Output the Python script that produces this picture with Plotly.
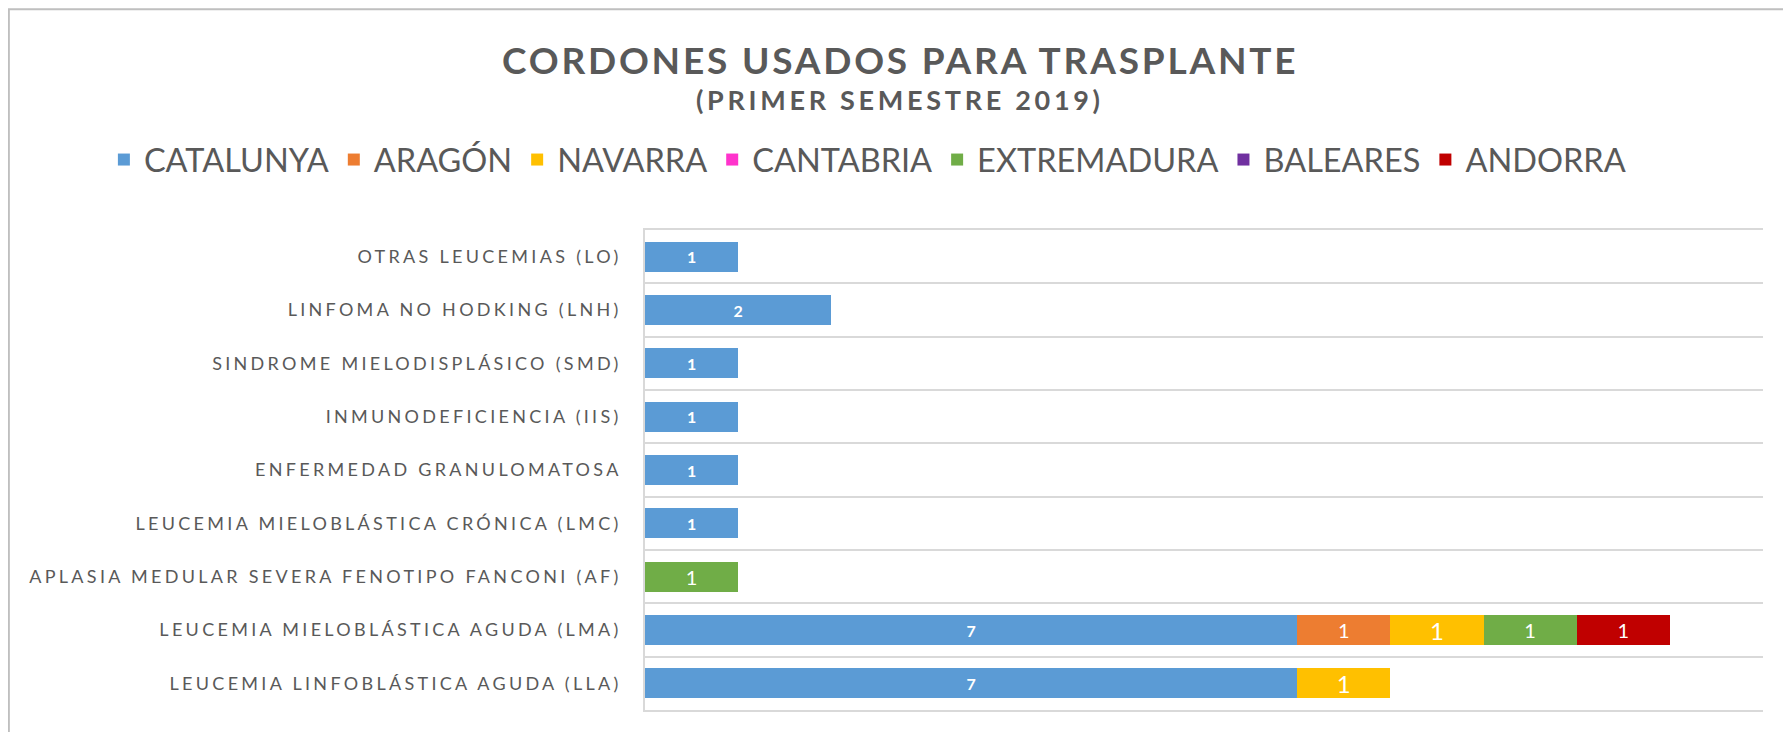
import plotly.graph_objects as go

categories = [
    "OTRAS LEUCEMIAS (LO)",
    "LINFOMA NO HODKING (LNH)",
    "SINDROME MIELODISPLÁSICO (SMD)",
    "INMUNODEFICIENCIA (IIS)",
    "ENFERMEDAD GRANULOMATOSA",
    "LEUCEMIA MIELOBLÁSTICA CRÓNICA (LMC)",
    "APLASIA MEDULAR SEVERA FENOTIPO FANCONI (AF)",
    "LEUCEMIA MIELOBLÁSTICA AGUDA (LMA)",
    "LEUCEMIA LINFOBLÁSTICA AGUDA (LLA)",
]

catalunya   = [1, 2, 1, 1, 1, 1, None, 7, 7]
aragon      = [None, None, None, None, None, None, None, 1, None]
navarra     = [None, None, None, None, None, None, None, 1, 1]
cantabria   = [None, None, None, None, None, None, None, None, None]
extremadura = [None, None, None, None, None, None, 1, 1, None]
baleares    = [None, None, None, None, None, None, None, None, None]
andorra     = [None, None, None, None, None, None, None, 1, None]

series_names = ["CATALUNYA", "ARAGÓN", "NAVARRA", "CANTABRIA", "EXTREMADURA", "BALEARES", "ANDORRA"]
series_values = [catalunya, aragon, navarra, cantabria, extremadura, baleares, andorra]
colors = ["#5B9BD5", "#ED7D31", "#FFC000", "#FF33CC", "#70AD47", "#7030A0", "#C00000"]
label_sizes = [16, 20, 24, 20, 20, 20, 20]
label_bold = [True, False, False, False, False, False, False]

FONT = "Lato"
GRAY = "#595959"

fig = go.Figure()
for name, vals, col, ls, bold in zip(series_names, series_values, colors, label_sizes, label_bold):
    txt = [("" if v is None else (f"<b>{v}</b>" if bold else f"{v}")) for v in vals]
    fig.add_trace(go.Bar(
        y=categories, x=vals, name=name, orientation="h",
        marker=dict(color=col, line=dict(width=0)),
        text=txt, textposition="inside", insidetextanchor="middle",
        textangle=0, constraintext="none",
        textfont=dict(color="white", size=ls, family=FONT),
        hoverinfo="x+y+name",
    ))

def spaced(s, px):
    return f'<span style="letter-spacing:{px}px">{s}</span>'

fig.update_layout(
    barmode="stack",
    bargap=0.437,
    width=1791, height=732,
    margin=dict(l=637, r=36, t=222, b=30, autoexpand=False),
    paper_bgcolor="white", plot_bgcolor="white",
    font=dict(family=FONT, color=GRAY),
    showlegend=True,
    legend=dict(
        orientation="h", x=-0.484, xanchor="left", y=1.146, yanchor="middle",
        font=dict(size=32.5, color=GRAY, family=FONT),
        traceorder="normal", itemclick=False,
    ),
    xaxis=dict(
        range=[0, 12], fixedrange=True,
        showticklabels=False, ticks="", showgrid=False, zeroline=False,
        showline=True, linecolor="#D9D9D9", linewidth=1.5, mirror=True,
    ),
    yaxis=dict(
        type="category", autorange="reversed",
        tickson="boundaries", ticks="",
        tickvals=categories,
        ticktext=[spaced(c, 3.3) for c in categories],
        tickfont=dict(size=18, color=GRAY, family=FONT),
        ticklabelstandoff=18,
        showgrid=True, gridcolor="#D9D9D9", gridwidth=1.5,
        showline=True, linecolor="#D9D9D9", linewidth=1.5, mirror=False,
        zeroline=False,
    ),
    annotations=[
        dict(text="<b>" + spaced("CORDONES USADOS PARA TRASPLANTE", 2.8) + "</b>",
             xref="paper", yref="paper", x=0.228, y=1.356,
             xanchor="center", yanchor="middle", showarrow=False,
             font=dict(size=37, color=GRAY, family=FONT)),
        dict(text="<b>" + spaced("(PRIMER SEMESTRE 2019)", 3.7) + "</b>",
             xref="paper", yref="paper", x=0.228, y=1.271,
             xanchor="center", yanchor="middle", showarrow=False,
             font=dict(size=27, color=GRAY, family=FONT)),
    ],
    shapes=[
        dict(type="rect", xref="paper", yref="paper",
             x0=-0.569, x1=1.04, y0=-0.1, y1=1.460,
             line=dict(color="#BFBFBF", width=2), fillcolor="rgba(0,0,0,0)", layer="below"),
    ],
)

fig.write_html("out.html")
